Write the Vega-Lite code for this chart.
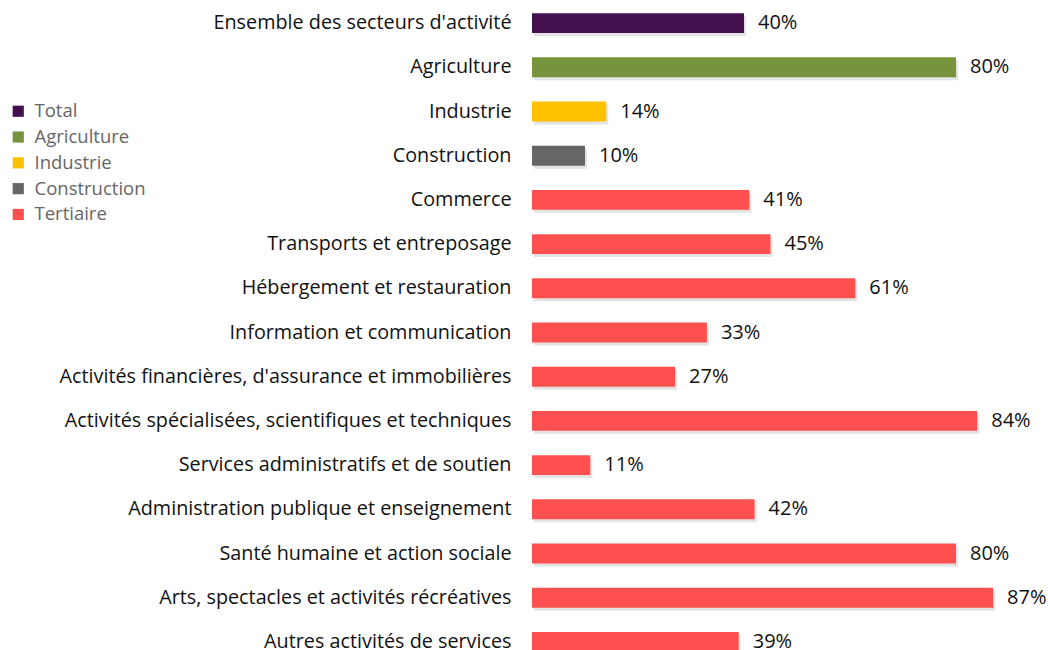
{
  "$schema": "https://vega.github.io/schema/vega-lite/v6.json",
  "autosize": {"type": "none"},
  "width": 530,
  "height": {"step": 44.2},
  "padding": {"left": 532, "top": 1, "right": 0, "bottom": 0},
  "background": "white",
  "config": {"view": {"stroke": null}, "font": "Open Sans"},
  "data": {
    "values": [
      {"secteur": "Ensemble des secteurs d'activité", "groupe": "Total", "part": 0.40},
      {"secteur": "Agriculture", "groupe": "Agriculture", "part": 0.80},
      {"secteur": "Industrie", "groupe": "Industrie", "part": 0.14},
      {"secteur": "Construction", "groupe": "Construction", "part": 0.10},
      {"secteur": "Commerce", "groupe": "Tertiaire", "part": 0.41},
      {"secteur": "Transports et entreposage", "groupe": "Tertiaire", "part": 0.45},
      {"secteur": "Hébergement et restauration", "groupe": "Tertiaire", "part": 0.61},
      {"secteur": "Information et communication", "groupe": "Tertiaire", "part": 0.33},
      {"secteur": "Activités financières, d'assurance et immobilières", "groupe": "Tertiaire", "part": 0.27},
      {"secteur": "Activités spécialisées, scientifiques et techniques", "groupe": "Tertiaire", "part": 0.84},
      {"secteur": "Services administratifs et de soutien", "groupe": "Tertiaire", "part": 0.11},
      {"secteur": "Administration publique et enseignement", "groupe": "Tertiaire", "part": 0.42},
      {"secteur": "Santé humaine et action sociale", "groupe": "Tertiaire", "part": 0.80},
      {"secteur": "Arts, spectacles et activités récréatives", "groupe": "Tertiaire", "part": 0.87},
      {"secteur": "Autres activités de services", "groupe": "Tertiaire", "part": 0.39}
    ]
  },
  "encoding": {
    "y": {
      "field": "secteur", "type": "nominal", "sort": null,
      "scale": {"paddingInner": 0.55, "paddingOuter": 0.275},
      "axis": {"title": null, "domain": false, "ticks": false, "labelPadding": 21, "labelFontSize": 19.8, "labelColor": "#111111", "labelFont": "Open Sans", "labelLimit": 600}
    },
    "x": {"field": "part", "type": "quantitative", "scale": {"domain": [0, 1]}, "axis": null}
  },
  "layer": [
    {
      "mark": {"type": "bar", "color": "#c8c8c8", "opacity": 0.5, "xOffset": 2, "yOffset": 3},
      "encoding": {}
    },
    {
      "mark": {"type": "bar"},
      "encoding": {
        "color": {
          "field": "groupe", "type": "nominal",
          "scale": {"domain": ["Total", "Agriculture", "Industrie", "Construction", "Tertiaire"], "range": ["#45104F", "#77933C", "#FFC000", "#666666", "#FF5050"]},
          "legend": {"title": null, "orient": "none", "legendX": -523, "legendY": 101, "symbolType": "square", "symbolSize": 125, "symbolStrokeWidth": 0, "labelFontSize": 18.5, "labelColor": "#666666", "labelFont": "Open Sans", "rowPadding": 6.8, "labelOffset": 7}
        }
      }
    },
    {
      "mark": {"type": "text", "align": "left", "baseline": "middle", "dx": 14, "fontSize": 20, "color": "#111111", "font": "Open Sans"},
      "encoding": {"text": {"field": "part", "type": "quantitative", "format": ".0%"}}
    }
  ]
}
